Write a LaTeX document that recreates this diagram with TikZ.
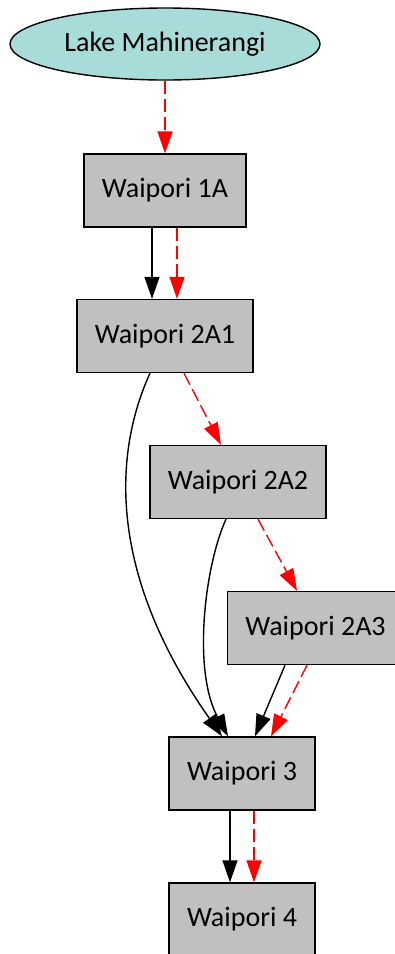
\documentclass[tikz,border=0pt]{standalone}
\usepackage{fontspec}
\setmainfont{Carlito}
\usetikzlibrary{arrows.meta,shapes.geometric}
\definecolor{lakefill}{HTML}{A8DCD9}
\definecolor{boxfill}{HTML}{C0C0C0}

\begin{document}
\begin{tikzpicture}[x=1pt,y=-1pt,
				font=\fontsize{28}{32}\selectfont,
				lake/.style={ellipse, draw, fill=lakefill, line width=1.4pt,
					minimum width=310pt, minimum height=72pt, inner sep=0pt},
				station/.style={rectangle, draw, fill=boxfill, line width=1.4pt,
					minimum height=73pt, inner xsep=18pt},
				flow/.style={line width=1.4pt, -{Triangle[length=22pt,width=15pt]}},
				spill/.style={flow, red, dash pattern=on 13pt off 5pt}]
			\clip (0,0) rectangle (395,954);
			% nodes
			\node[lake] (lake) at (165,44) {Lake Mahinerangi};
			\node[station] (w1a) at (165,190.5) {Waipori 1A};
			\node[station] (w2a1) at (165,336) {Waipori 2A1};
			\node[station] (w2a2) at (238,482) {Waipori 2A2};
			\node[station] (w2a3) at (315.5,628) {Waipori 2A3};
			\node[station] (w3) at (242,773.5) {Waipori 3};
			\node[station] (w4) at (242,919.5) {Waipori 4};
			% edges
			\draw[spill] (lake) -- (w1a);
			\draw[flow] ([xshift=-13pt]w1a.south) -- ([xshift=-13pt]w2a1.north);
			\draw[spill] ([xshift=12pt]w1a.south) -- ([xshift=12pt]w2a1.north);
			\draw[spill] ([xshift=19pt]w2a1.south) -- ([xshift=-17pt]w2a2.north);
			\draw[flow] ([xshift=-15pt]w2a1.south) .. controls (115,450) and (105,570) .. ([xshift=-20pt]w3.north);
			\draw[flow] ([xshift=-12pt]w2a2.south) .. controls (205,565) and (192,670) .. ([xshift=-14pt]w3.north);
			\draw[spill] ([xshift=20pt]w2a2.south) -- ([xshift=-18.5pt]w2a3.north);
			\draw[flow] ([xshift=-30.5pt]w2a3.south) -- ([xshift=13pt]w3.north);
			\draw[spill] ([xshift=-8.5pt]w2a3.south) -- ([xshift=29pt]w3.north);
			\draw[flow] ([xshift=-12pt]w3.south) -- ([xshift=-12pt]w4.north);
			\draw[spill] ([xshift=12pt]w3.south) -- ([xshift=12pt]w4.north);
		\end{tikzpicture}
\end{document}
